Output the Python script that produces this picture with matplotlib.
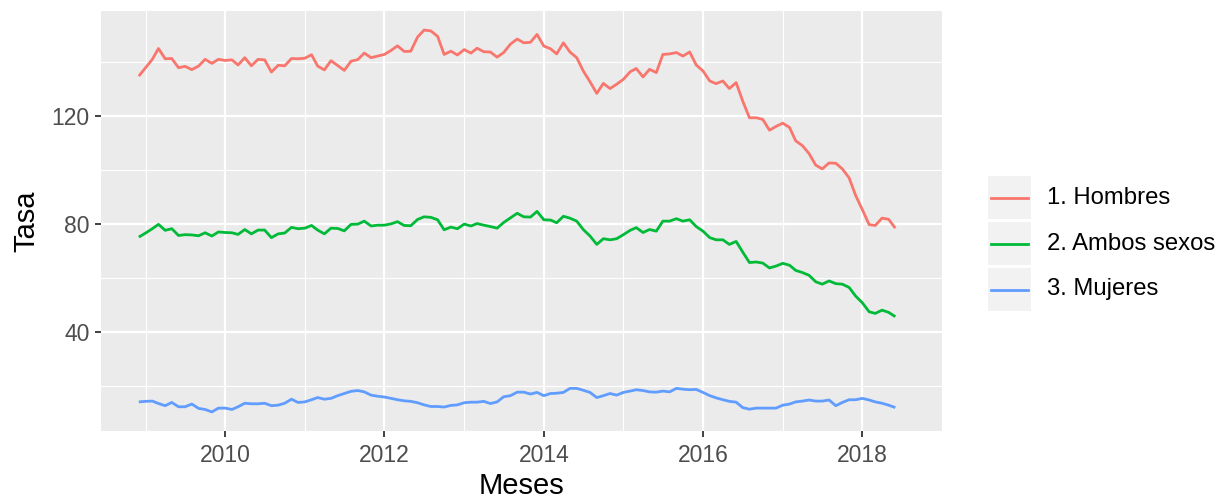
import matplotlib
matplotlib.use("Agg")
import matplotlib.pyplot as plt
import matplotlib.dates as mdates
from matplotlib.patches import Rectangle
from matplotlib.lines import Line2D
import pandas as pd
import numpy as np

# monthly series, Dec 2008 .. Jun 2018
meses = pd.date_range("2008-12-01", periods=115, freq="MS")

hombres = [
    134.7, 137.8, 140.9, 144.9, 141.1, 141.2, 137.8, 138.3, 137.1, 138.4,
    140.9, 139.4, 140.9, 140.5, 140.7, 138.8, 141.5, 138.5, 140.9, 140.7,
    136.2, 138.7, 138.5, 141.2, 141.1, 141.3, 142.6, 138.4, 137.0, 140.4,
    138.6, 136.8, 140.2, 140.8, 143.2, 141.5, 142.1, 142.7, 144.2, 145.9,
    143.8, 143.9, 149.1, 151.7, 151.4, 149.4, 142.7, 143.9, 142.5, 144.5,
    143.2, 145.0, 143.7, 143.6, 141.7, 143.4, 146.5, 148.4, 147.0, 147.2,
    150.1, 145.8, 144.8, 142.9, 147.0, 143.6, 141.5, 136.6, 132.6, 128.3,
    132.0, 130.1, 131.7, 133.5, 136.3, 137.5, 134.4, 137.2, 136.0, 142.7,
    142.9, 143.4, 142.1, 143.6, 138.8, 136.6, 132.9, 131.9, 132.9, 130.1,
    132.3, 125.5, 119.3, 119.3, 118.7, 114.7, 116.1, 117.3, 115.7, 110.8,
    109.0, 106.1, 101.8, 100.4, 102.6, 102.5, 100.4, 97.1, 90.6, 85.3,
    79.8, 79.5, 82.2, 81.8, 78.5,
]

ambos = [
    75.2, 76.7, 78.3, 79.9, 77.7, 78.3, 75.8, 76.1, 76.0, 75.7,
    76.8, 75.6, 77.1, 76.9, 76.8, 76.2, 78.0, 76.4, 77.8, 77.8,
    75.0, 76.4, 76.7, 78.8, 78.3, 78.5, 79.5, 77.8, 76.4, 78.5,
    78.4, 77.5, 79.9, 80.0, 81.1, 79.3, 79.6, 79.6, 80.1, 80.9,
    79.5, 79.4, 81.7, 82.7, 82.5, 81.6, 77.9, 78.9, 78.3, 80.0,
    79.3, 80.2, 79.6, 79.1, 78.5, 80.6, 82.3, 84.0, 82.7, 82.6,
    84.7, 81.6, 81.5, 80.5, 82.9, 82.2, 81.1, 78.0, 75.6, 72.5,
    74.6, 74.2, 74.6, 76.1, 77.7, 78.7, 76.9, 78.0, 77.4, 81.1,
    81.1, 82.0, 81.1, 81.6, 79.1, 77.4, 75.0, 74.2, 74.2, 72.5,
    73.6, 69.7, 65.8, 66.0, 65.6, 63.8, 64.5, 65.5, 64.8, 62.9,
    62.1, 61.1, 58.7, 57.8, 59.0, 58.0, 57.8, 56.6, 53.4, 50.9,
    47.6, 47.0, 48.2, 47.4, 45.8,
]

mujeres = [
    14.3, 14.5, 14.6, 13.7, 12.9, 14.1, 12.5, 12.5, 13.5, 11.9,
    11.5, 10.6, 12.0, 12.0, 11.5, 12.5, 13.8, 13.6, 13.6, 13.8,
    12.9, 13.1, 13.8, 15.3, 14.1, 14.3, 15.1, 15.9, 15.3, 15.6,
    16.6, 17.4, 18.2, 18.5, 18.0, 16.8, 16.4, 16.1, 15.6, 15.1,
    14.7, 14.5, 14.0, 13.2, 12.6, 12.6, 12.4, 13.0, 13.2, 14.0,
    14.2, 14.2, 14.5, 13.7, 14.3, 16.2, 16.6, 17.9, 17.9, 17.2,
    17.8, 16.6, 17.4, 17.5, 17.8, 19.3, 19.3, 18.6, 17.8, 15.9,
    16.6, 17.4, 16.8, 17.8, 18.3, 18.8, 18.5, 18.0, 17.9, 18.3,
    18.0, 19.3, 19.0, 18.8, 18.9, 17.8, 16.6, 15.8, 15.1, 14.5,
    14.2, 12.2, 11.6, 12.0, 12.0, 12.0, 12.0, 13.1, 13.5, 14.3,
    14.6, 15.0, 14.6, 14.6, 15.0, 12.9, 14.1, 15.1, 15.1, 15.6,
    15.0, 14.3, 13.8, 13.1, 12.2,
]

series = ["1. Hombres", "2. Ambos sexos", "3. Mujeres"]
colores = ["#F8766D", "#00BA38", "#619CFF"]

plt.rcParams['font.family'] = ['Liberation Sans', 'DejaVu Sans']

fig = plt.figure(figsize=(12.19, 5), dpi=100)
ax = fig.add_axes([101 / 1219, 69 / 500, 841 / 1219, 420 / 500])
ax.set_facecolor("#EBEBEB")

for vals, c in zip([hombres, ambos, mujeres], colores):
    ax.plot(meses, vals, color=c, lw=2.0, solid_capstyle="butt")

# ggplot-like 5% expansion
allv = np.concatenate([hombres, ambos, mujeres])
lo, hi = allv.min(), allv.max()
ax.set_ylim(lo - 0.05 * (hi - lo), hi + 0.05 * (hi - lo))
x0, x1 = mdates.date2num(meses[0]), mdates.date2num(meses[-1])
ax.set_xlim(x0 - 0.05 * (x1 - x0), x1 + 0.05 * (x1 - x0))

ax.set_yticks([40, 80, 120])
ax.set_yticks([20, 60, 100, 140], minor=True)
major_years = [pd.Timestamp(f"{y}-01-01") for y in range(2010, 2019, 2)]
minor_years = [pd.Timestamp(f"{y}-01-01") for y in range(2009, 2020, 2)]
ax.set_xticks(mdates.date2num(major_years))
ax.set_xticklabels([str(d.year) for d in major_years])
ax.set_xticks(mdates.date2num(minor_years), minor=True)

ax.grid(which="major", color="white", lw=1.6)
ax.grid(which="minor", color="white", lw=0.8)
ax.set_axisbelow(True)
for s in ax.spines.values():
    s.set_visible(False)

ax.tick_params(which="major", length=4.6, width=1.3, color="#333333",
               labelsize=16.5, labelcolor="#4D4D4D")
ax.tick_params(axis="x", which="major", pad=4.5)
ax.tick_params(axis="y", which="major", pad=3.5)
ax.tick_params(which="minor", length=0)

ax.set_xlabel("Meses", fontsize=21, labelpad=3.5)
ax.set_ylabel("Tasa", fontsize=21, labelpad=8)

# legend, ggplot style: grey key boxes
kx, kw, kh = 988, 43, 43
tops = [176, 222, 268]
for name, c, t in zip(series, colores, tops):
    fig.patches.append(Rectangle((kx / 1219, 1 - (t + kh) / 500), kw / 1219, kh / 500,
                                 transform=fig.transFigure, facecolor="#F2F2F2",
                                 edgecolor="none"))
    yc = 1 - (t + kh / 2) / 500
    fig.lines.append(Line2D([(kx + 3) / 1219, (kx + kw - 3) / 1219], [yc, yc],
                            transform=fig.transFigure, color=c, lw=2.0))
    fig.text(1047 / 1219, yc, name, fontsize=17.2, va="center", ha="left",
             color="black")

fig.savefig("out.png", dpi=100)
